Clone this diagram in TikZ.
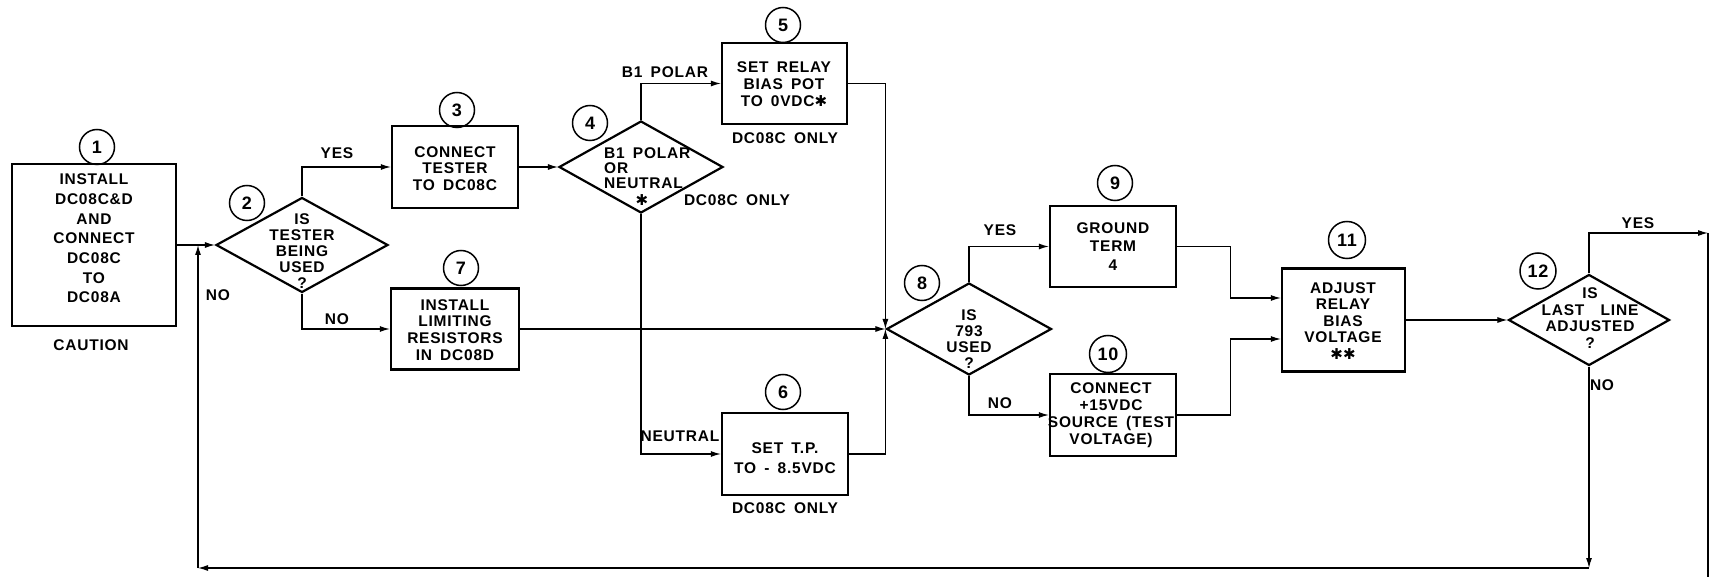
\documentclass[tikz,border=0pt]{standalone}
\usepackage{fontspec}
\setmainfont{Liberation Sans}[LetterSpace=5,WordSpace=1.6]
\newfontfamily\starfont{DejaVu Sans}
\usetikzlibrary{arrows.meta,shapes.geometric}
\newcommand\lblfont{\fontsize{15.5}{17}\selectfont\bfseries}
\newcommand\numfont{\fontsize{18}{18}\selectfont\bfseries}
\newcommand\pitchfont[1]{\fontsize{15.5}{#1}\selectfont\bfseries}
\newcommand\st{{\starfont\fontsize{15}{12}\selectfont ✱}}
\begin{document}
\begin{tikzpicture}[x=1pt,y=-1pt,
  box/.style={draw, line width=2.4pt, inner sep=0pt},
  dia/.style={draw, diamond, line width=2.2pt, inner sep=0pt},
  txt/.style={align=center, inner sep=0pt},
  num/.style={draw, circle, line width=1.5pt, minimum size=35pt, inner sep=0pt, font=\numfont},
  lbl/.style={inner sep=0pt, font=\lblfont},
  ln/.style={line width=1.1pt},
  arr/.style={line width=1.1pt, -{Latex[length=10pt,width=6pt]}}]
\useasboundingbox (0,0) rectangle (1717,577);

% boxes
\node[box, minimum width=164pt, minimum height=162pt] (b1) at (94,245) {};
\node[box, minimum width=126pt, minimum height=82pt] (b3) at (455,167) {};
\node[box, minimum width=125pt, minimum height=81pt] (b5) at (784.5,83.5) {};
\node[box, minimum width=126pt, minimum height=82pt] (b6) at (785,454) {};
\node[box, minimum width=128pt, minimum height=81pt] (b7) at (455,329) {};
\node[box, minimum width=126pt, minimum height=81pt] (b9) at (1113,246.5) {};
\node[box, minimum width=126pt, minimum height=82pt] (b10) at (1113,415) {};
\node[box, minimum width=123pt, minimum height=103pt] (b11) at (1343.5,320) {};

% diamonds
\node[dia, minimum width=172pt, minimum height=95pt] (d2) at (302,245) {};
\node[dia, minimum width=164pt, minimum height=92pt] (d4) at (641,167) {};
\node[dia, minimum width=165pt, minimum height=92pt] (d8) at (969,329) {};
\node[dia, minimum width=161pt, minimum height=91pt] (d12) at (1589,320) {};

% texts
\node[txt, font=\pitchfont{19.7}] (t1) at (94,238.5) {INSTALL\\DC08C\&D\\AND\\CONNECT\\DC08C\\TO\\DC08A};
\node[lbl] (cap1) at (91,345) {CAUTION};
\node[txt, font=\pitchfont{16.7}] (t3) at (455,168.5) {CONNECT\\TESTER\\TO DC08C};
\node[txt, font=\pitchfont{17}] (t5) at (784,84) {SET RELAY\\BIAS POT\\TO 0VDC\st};
\node[lbl] (dc5) at (785,138) {DC08C ONLY};
\node[txt, font=\pitchfont{20}] (t6) at (785,458) {SET T.P.\\TO - 8.5VDC};
\node[lbl] (dc6) at (785,508) {DC08C ONLY};
\node[txt, font=\pitchfont{16.7}] (t7) at (455,330) {INSTALL\\LIMITING\\RESISTORS\\IN DC08D};
\node[txt, font=\pitchfont{18.5}] (t9) at (1113,246.5) {GROUND\\TERM\\4};
\node[txt, font=\pitchfont{17}] (t10) at (1111,415.5) {CONNECT\\+15VDC\\SOURCE (TEST\\VOLTAGE)};
\node[txt, font=\pitchfont{16.5}] (t11) at (1343,321) {ADJUST\\RELAY\\BIAS\\VOLTAGE\\\st\st};
\node[txt, font=\pitchfont{15.8}] (td2) at (302,251) {IS\\TESTER\\BEING\\USED\\?};
\node[txt, align=left, anchor=west, font=\pitchfont{15}] (td4) at (604,168) {B1 POLAR\\OR\\NEUTRAL};
\node[lbl] (st4) at (642,200) {\st};
\node[lbl] (dc4) at (737,200) {DC08C ONLY};
\node[txt, font=\pitchfont{16}] (td8) at (969,339) {IS\\793\\USED\\?};
\node[txt, font=\pitchfont{16.7}] (td12) at (1590,318) {IS\\LAST\ \ LINE\\ADJUSTED\\?};

% circled numbers
\node[num] (c1) at (97,147) {1};
\node[num] (c2) at (247,203) {2};
\node[num] (c3) at (457,110) {3};
\node[num] (c4) at (590,123) {4};
\node[num] (c5) at (783,25) {5};
\node[num] (c6) at (783,392) {6};
\node[num] (c7) at (461,268) {7};
\node[num] (c8) at (922,283) {8};
\node[num] (c9) at (1115,183) {9};
\node[num, minimum size=37pt] (c10) at (1108,354) {10};
\node[num, minimum size=37pt] (c11) at (1347,240) {11};
\node[num, minimum size=36pt] (c12) at (1538,271) {12};

% branch labels
\node[lbl] (yes2) at (337,153) {YES};
\node[lbl] (no2) at (337,319) {NO};
\node[lbl] (noret) at (218,295) {NO};
\node[lbl] (pol4) at (665,72) {B1 POLAR};
\node[lbl] (neu4) at (680,436) {NEUTRAL};
\node[lbl] (yes8) at (1000,230) {YES};
\node[lbl] (no8) at (1000,403) {NO};
\node[lbl] (yes12) at (1638,223) {YES};
\node[lbl] (no12) at (1602,385) {NO};

% coordinates for free ends
\coordinate (yesend) at (1708,233);
\coordinate (exitb) at (1708,577);
\coordinate (ret1) at (1589,568);
\coordinate (ret2) at (198,568);

% connectors
\draw[arr] (b1.east) -- (d2.west);
\draw[arr] (d2.north) |- (b3.west);
\draw[arr] (d2.south) |- (b7.west);
\draw[arr] (b3.east) -- (d4.west);
\draw[arr] (d4.north) |- (b5.west);
\draw[arr] (d4.south) |- (b6.west);
\draw[arr] (b5.east) -| (d8.west);
\draw[arr] (b6.east) -| (d8.west);
\draw[arr] (b7.east) -- (d8.west);
\draw[arr] (d8.north) |- (b9.west);
\draw[arr] (d8.south) |- (b10.west);
\draw[arr] (b9.east) -- ++(53,0) |- ([yshift=22pt]b11.west);
\draw[arr] (b10.east) -- ++(53,0) |- ([yshift=-19pt]b11.west);
\draw[arr] (b11.east) -- (d12.west);
\draw[arr] (d12.north) |- (yesend);
\draw[ln] (yesend) -- (exitb);
\draw[arr] (d12.south) -- (ret1);
\draw[arr] (ret1) -- (ret2);
\draw[arr] (ret2) -- (ret2 |- d2.west);
\end{tikzpicture}
\end{document}
